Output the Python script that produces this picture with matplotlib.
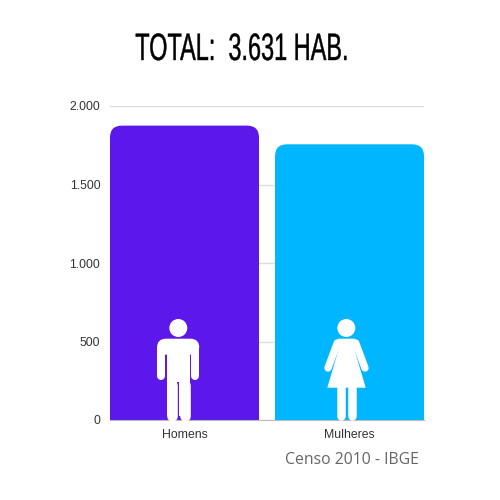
import matplotlib
matplotlib.use('Agg')
import matplotlib.pyplot as plt
import matplotlib.patheffects as pe
from matplotlib.path import Path
from matplotlib.transforms import Affine2D
from matplotlib.patches import PathPatch, Circle, Polygon, Rectangle, FancyBboxPatch

# Dados
categorias = ['Homens', 'Mulheres']
populacao = [1875, 1756]
cores = ['#5c17eb', '#00b6ff']
ticks_y = [0, 500, 1000, 1500, 2000]
ticks_txt = ['0', '500', '1.000', '1.500', '2.000']

LARG = 0.903
RAIO_PX = 12


# Sem fonte condensada instalada: aperta o texto na horizontal ao desenhar
class Condensa(pe.AbstractPathEffect):
    def __init__(self, sx, x0, traco_pt):
        super().__init__()
        self.sx = sx
        self.x0 = x0
        self.traco_pt = traco_pt

    def draw_path(self, renderer, gc, tpath, affine, rgbFace=None):
        t = Affine2D().translate(-self.x0, 0).scale(self.sx, 1).translate(self.x0, 0)
        gc0 = renderer.new_gc()
        gc0.copy_properties(gc)
        gc0.set_linewidth(self.traco_pt)
        renderer.draw_path(gc0, tpath, affine + t, rgbFace)
        gc0.restore()


fig = plt.figure(figsize=(5, 5), dpi=100, facecolor='white')
ax = fig.add_axes([110 / 500, 1 - 420 / 500, 314 / 500, 314 / 500])
ax.set_xlim(-LARG / 2, 1 + LARG / 2)
ax.set_ylim(0, 2000)

# px -> unidades de dados, para o canto arredondado ficar circular
rx = RAIO_PX * (1 + LARG) / 314
ry = RAIO_PX * 2000 / 314


def barra_arredondada(x, h, cor):
    e, d = x - LARG / 2, x + LARG / 2
    verts = [(e, 0), (e, h - ry), (e, h), (e + rx, h), (d - rx, h), (d, h), (d, h - ry), (d, 0), (e, 0)]
    codes = [Path.MOVETO, Path.LINETO, Path.CURVE3, Path.CURVE3, Path.LINETO,
             Path.CURVE3, Path.CURVE3, Path.LINETO, Path.CLOSEPOLY]
    ax.add_patch(PathPatch(Path(verts, codes), facecolor=cor, edgecolor='none', zorder=3))


for i, (v, c) in enumerate(zip(populacao, cores)):
    barra_arredondada(i, v, c)

ax.set_xticks(range(len(categorias)), categorias)
ax.set_yticks(ticks_y, ticks_txt)
ax.tick_params(length=0, labelsize=8.8, labelcolor='#333333', pad=7, labelfontfamily='Liberation Sans')
ax.tick_params(axis='x', pad=6.5)
ax.grid(axis='y', color='#dddddd', lw=1)
ax.set_axisbelow(True)
for lado in ['top', 'left', 'right']:
    ax.spines[lado].set_visible(False)
ax.spines['bottom'].set_color('#bbbbbb')
ax.spines['bottom'].set_zorder(5)

# Camada em pixels para os icones
ic = fig.add_axes([0, 0, 1, 1], facecolor='none')
ic.set_xlim(0, 500)
ic.set_ylim(500, 0)
ic.axis('off')
BR = 'white'


def traco(xs, ys, lw=8):
    # lw em px -> pt
    ic.plot(xs, ys, color=BR, lw=lw * 0.72, solid_capstyle='round', solid_joinstyle='round')


# Homem
ic.add_patch(Circle((178.3, 328), 9, fc=BR, ec='none'))
ic.add_patch(FancyBboxPatch((157, 338.7), 42.3, 16, boxstyle='round,pad=0,rounding_size=9', fc=BR, ec='none'))
ic.add_patch(Rectangle((166.7, 350), 23.3, 32, fc=BR, ec='none'))
traco([161, 161], [348, 375.5])
traco([195.3, 195.3], [348, 375.5])
ic.add_patch(Rectangle((166.7, 379), 10.6, 37, fc=BR, ec='none'))
ic.add_patch(Rectangle((179.3, 379), 10.7, 37, fc=BR, ec='none'))
traco([172, 172], [385, 416], lw=10.6)
traco([184.6, 184.6], [385, 416], lw=10.6)

# Mulher
ic.add_patch(Circle((346.3, 328), 9, fc=BR, ec='none'))
ic.add_patch(Polygon([(335, 347), (338, 338.7), (355, 338.7), (358, 347)], fc=BR, ec='none'))
ic.add_patch(Polygon([(339.3, 347), (353.7, 347), (365.7, 387.7), (327.3, 387.7)], fc=BR, ec='none'))
traco([337.3, 328], [343, 368], lw=7.4)
traco([355.7, 365], [343, 368], lw=7.4)
traco([340.6, 340.6], [388, 416], lw=8.5)
traco([352.2, 352.2], [388, 416], lw=8.5)

# Textos
titulo = fig.text(242 / 500, 1 - 60 / 500, 'TOTAL:  3.631 HAB.', fontsize=27.5, color='black',
                  family='Liberation Sans', ha='center', va='baseline')
titulo.set_path_effects([Condensa(0.615, 242, 0.3)])
fig.text(285 / 500, 1 - 464.5 / 500, 'Censo 2010 - IBGE', fontsize=11.3, color='#666666',
         family='Open Sans', ha='left', va='baseline')

fig.savefig('out.png', dpi=100, facecolor='white')
